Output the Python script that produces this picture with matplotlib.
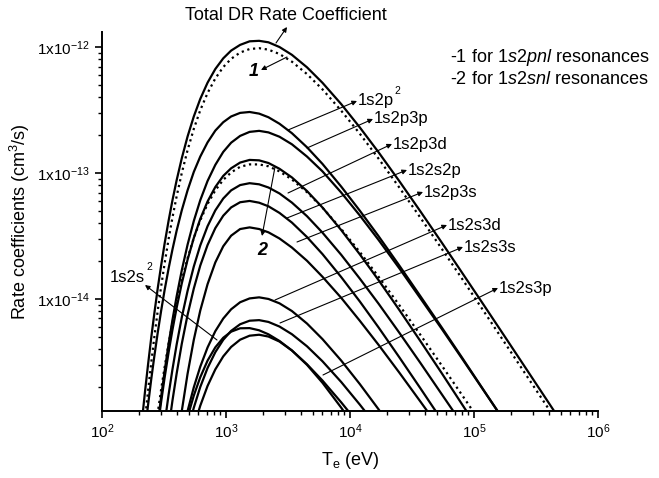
import numpy as np
import matplotlib.pyplot as plt

plt.rcParams['font.family'] = ['Liberation Sans', 'DejaVu Sans']
plt.rcParams['mathtext.fontset'] = 'custom'
plt.rcParams['mathtext.rm'] = 'Liberation Sans'
plt.rcParams['mathtext.it'] = 'Liberation Sans:italic'
plt.rcParams['mathtext.bf'] = 'Liberation Sans:bold'

# electron temperature (eV)
te = [200, 210, 222, 235, 250, 265, 282, 300, 320, 345, 370, 400, 440,
      490, 550, 620, 710, 820, 950, 1100, 1300, 1550, 1850, 2200, 2700,
      3400, 4500, 6000, 8500, 12000, 17000, 25000, 37000, 55000, 80000,
      120000, 180000, 270000, 400000, 600000]

# rate coefficients, in units of 1e-15 cm^3/s (None = off the plot)
total = [0.66, 1.08, 1.82, 3, 5.01, 7.84, 12.3, 18.5, 27.6, 42.2, 60.7, 87.7,
         131, 195, 281, 387, 521, 669, 813, 937, 1040, 1110, 1120, 1090,
         1000, 867, 690, 520, 352, 230, 146, 86.1, 49.5, 28, 16.2, 8.94,
         4.91, 2.69, 1.5, 0.818]
sum_pnl = [0.374, 0.626, 1.09, 1.85, 3.17, 5.1, 8.17, 12.6, 19.2, 30.2, 44.3,
           65.4, 100, 152, 224, 315, 431, 563, 693, 806, 904, 964, 979, 953,
           880, 765, 610, 461, 312, 205, 130, 76.6, 44.1, 25, 14.5, 7.98,
           4.38, 2.4, 1.34, 0.731]
p2sq = [0.336, 0.536, 0.886, 1.43, 2.34, 3.58, 5.47, 8.08, 11.8, 17.6, 24.7,
        34.9, 50.6, 72.9, 102, 135, 175, 217, 253, 281, 300, 305, 296, 277,
        246, 207, 160, 118, 77.9, 50.2, 31.5, 18.4, 10.5, 5.93, 3.43, 1.88,
        1.03, 0.565, 0.314, 0.172]
p3p = [0.033, 0.0586, 0.109, 0.197, 0.359, 0.609, 1.03, 1.68, 2.68, 4.44,
       6.81, 10.5, 16.9, 27, 41.6, 60.8, 86.4, 116, 147, 174, 197, 212, 216,
       210, 194, 169, 135, 103, 69.9, 46, 29.4, 17.5, 10.1, 5.78, 3.37, 1.87,
       1.04, 0.573, 0.321, 0.177]
sum_snl = [0.0633, 0.104, 0.178, 0.299, 0.504, 0.797, 1.26, 1.92, 2.88, 4.45,
           6.44, 9.37, 14.1, 21.1, 30.5, 42.1, 56.7, 72.8, 88.2, 101, 112,
           117, 117, 113, 103, 88.8, 70.4, 53, 35.9, 23.6, 15, 8.92, 5.18,
           2.96, 1.73, 0.962, 0.534, 0.295, 0.166, 0.0918]
p3d = [0.0376, 0.0647, 0.116, 0.203, 0.359, 0.59, 0.968, 1.53, 2.38, 3.81,
       5.69, 8.53, 13.3, 20.5, 30.5, 43.2, 59.4, 77.4, 94.8, 109, 121, 127,
       126, 120, 108, 92.2, 71.9, 53.2, 35.2, 22.6, 14.1, 8.17, 4.62, 2.57,
       1.46, 0.793, 0.428, 0.231, 0.126, 0.0679]
s2p = [None, None, 0.0337, 0.0636, 0.121, 0.213, 0.373, 0.626, 1.03, 1.76,
       2.76, 4.35, 7.15, 11.6, 18.1, 26.6, 37.8, 50.5, 62.7, 72.8, 80.2, 83,
       81.3, 76.7, 68.8, 58.2, 45.4, 33.6, 22.4, 14.5, 9.17, 5.39, 3.1, 1.75,
       1.02, 0.562, 0.309, 0.17, 0.095, 0.052]
p3s = [None, None, None, 0.0248, 0.0504, 0.0938, 0.174, 0.307, 0.53, 0.95,
       1.56, 2.56, 4.41, 7.49, 12.1, 18.4, 26.8, 36.5, 45.8, 53.3, 58.6, 60,
       58.1, 54.4, 48.2, 40.4, 31, 22.7, 14.9, 9.55, 5.94, 3.44, 1.95, 1.09,
       0.622, 0.338, 0.183, 0.0992, 0.0546, 0.0295]
other = [None, None, None, None, None, None, None, 0.0419, 0.0846, 0.179,
         0.338, 0.643, 1.29, 2.55, 4.74, 8.09, 13.1, 19.5, 26.2, 31.8, 35.9,
         37, 35.9, 33.8, 30.2, 25.6, 20.1, 15, 10.2, 6.71, 4.32, 2.6, 1.53,
         0.891, 0.53, 0.301, 0.17, 0.0963, 0.0553, 0.0312]
s3d = [None, None, None, None, None, None, 0.0493, 0.0801, 0.128, 0.212,
       0.325, 0.502, 0.807, 1.29, 1.99, 2.9, 4.12, 5.55, 6.99, 8.28, 9.42,
       10.1, 10.3, 10, 9.23, 8.02, 6.38, 4.8, 3.24, 2.11, 1.33, 0.782, 0.447,
       0.251, 0.145, 0.0793, 0.0432, None, None, None]
s3s = [None, None, None, None, None, None, 0.0348, 0.0564, 0.0901, 0.149,
       0.228, 0.351, 0.563, 0.896, 1.37, 2, 2.83, 3.78, 4.74, 5.58, 6.3,
       6.72, 6.79, 6.57, 6.04, 5.25, 4.21, 3.2, 2.19, 1.45, 0.935, 0.562,
       0.33, 0.191, 0.113, 0.0635, 0.0356, None, None, None]
s2sq = [None, None, None, None, None, 0.0314, 0.0522, 0.0835, 0.131, 0.212,
        0.319, 0.481, 0.75, 1.16, 1.71, 2.39, 3.24, 4.13, 4.92, 5.5, 5.85,
        5.87, 5.64, 5.24, 4.64, 3.9, 3.03, 2.25, 1.51, 0.992, 0.635, 0.381,
        0.224, 0.129, 0.0768, 0.0435, None, None, None, None]
s3p = [None, None, None, None, None, None, None, 0.0364, 0.0588, 0.0984,
       0.152, 0.237, 0.386, 0.623, 0.968, 1.42, 2.04, 2.76, 3.5, 4.16, 4.75,
       5.11, 5.2, 5.03, 4.59, 3.9, 3, 2.16, 1.37, 0.84, 0.494, 0.268, 0.141,
       0.0727, 0.0385, None, None, None, None, None]

solid = [total, p2sq, p3p, p3d, s2p, p3s, other, s3d, s3s, s2sq, s3p]
dotted = [sum_pnl, sum_snl]

fig = plt.figure(figsize=(6.59, 4.78), dpi=100)
ax = fig.add_axes([102 / 659, 1 - 411 / 478, 496 / 659, 379 / 478])

for ser in solid:
    ax.plot(te, np.array(ser, dtype=float) * 1e-15, color='black', lw=1.6)
for ser in dotted:
    ax.plot(te, np.array(ser, dtype=float) * 1e-15, color='black', lw=1.6,
            ls=':')

ax.set_xscale('log')
ax.set_yscale('log')
ax.set_xlim(100, 1e6)
ax.set_ylim(1.29e-15, 1.316e-12)
for s in ['top', 'right']:
    ax.spines[s].set_visible(False)
for s in ['left', 'bottom']:
    ax.spines[s].set_linewidth(1.4)
ax.tick_params(which='major', length=5, width=1.2, labelsize=11)
ax.tick_params(which='minor', length=3, width=1.0)
ax.set_yticks([1e-14, 1e-13, 1e-12])
ax.set_yticklabels([r'1x10$^{\mathregular{-14}}$', r'1x10$^{\mathregular{-13}}$',
                    r'1x10$^{\mathregular{-12}}$'])
ax.set_xticks([1e2, 1e3, 1e4, 1e5, 1e6])
ax.set_xticklabels([r'10$^{\mathregular{%d}}$' % k for k in range(2, 7)])
ax.set_xlabel(r'T$_{\mathregular{e}}$ (eV)', fontsize=13, labelpad=6)
ax.set_ylabel(r'Rate coefficients (cm$^{\mathregular{3}}$/s)', fontsize=13)


def px(x, y):
    # reference pixel -> axes fraction
    return ((x - 102) / 496, (411 - y) / 379)


# (label, start on curve, arrow tip)
arrows = [
    ('', (276, 43), (287, 27)),
    ('', (287, 57), (261, 70)),
    ('1s2p', (288, 130), (357, 101)),
    ('1s2p3p', (307, 148), (373, 119)),
    ('1s2p3d', (288, 193), (392, 144)),
    ('1s2s2p', (287, 218), (407, 170)),
    ('1s2p3s', (297, 242), (423, 192)),
    ('1s2s3d', (275, 300), (447, 225)),
    ('1s2s3s', (280, 323), (463, 247)),
    ('1s2s3p', (323, 375), (498, 288)),
    ('', (217, 340), (145, 285)),
    ('', (275, 167), (262, 236)),
]
for text, p0, p1 in arrows:
    ax.annotate('', xy=px(*p1), xytext=px(*p0), xycoords='axes fraction',
                arrowprops=dict(arrowstyle='-|>', color='black', lw=0.8,
                                mutation_scale=7, shrinkA=0, shrinkB=0),
                annotation_clip=False)
    if text:
        ax.text(*px(p1[0] + 1, p1[1]), text, transform=ax.transAxes,
                fontsize=12, va='center', ha='left')

# small superscripts, set apart so they do not crowd the next label
ax.text(*px(394, 91), '2', transform=ax.transAxes, fontsize=7.5,
        va='center', ha='left')
ax.text(*px(110, 277), '1s2s', transform=ax.transAxes,
        fontsize=12, va='center', ha='left')
ax.text(*px(146, 267), '2', transform=ax.transAxes, fontsize=7.5,
        va='center', ha='left')
ax.text(*px(254, 71), '1', transform=ax.transAxes, fontsize=13,
        style='italic', weight='bold', ha='center', va='center')
ax.text(*px(262, 250), '2', transform=ax.transAxes, fontsize=13,
        style='italic', weight='bold', ha='center', va='center')
fig.text(286 / 659, 1 - 16 / 478, 'Total DR Rate Coefficient', fontsize=13,
         ha='center', va='center')
fig.text(450 / 659, 1 - 58 / 478, r'-1 for $\mathit{1s2pnl}$ resonances',
         fontsize=13, ha='left', va='center')
fig.text(450 / 659, 1 - 80 / 478, r'-2 for $\mathit{1s2snl}$ resonances',
         fontsize=13, ha='left', va='center')

fig.savefig('out.png', dpi=100)
